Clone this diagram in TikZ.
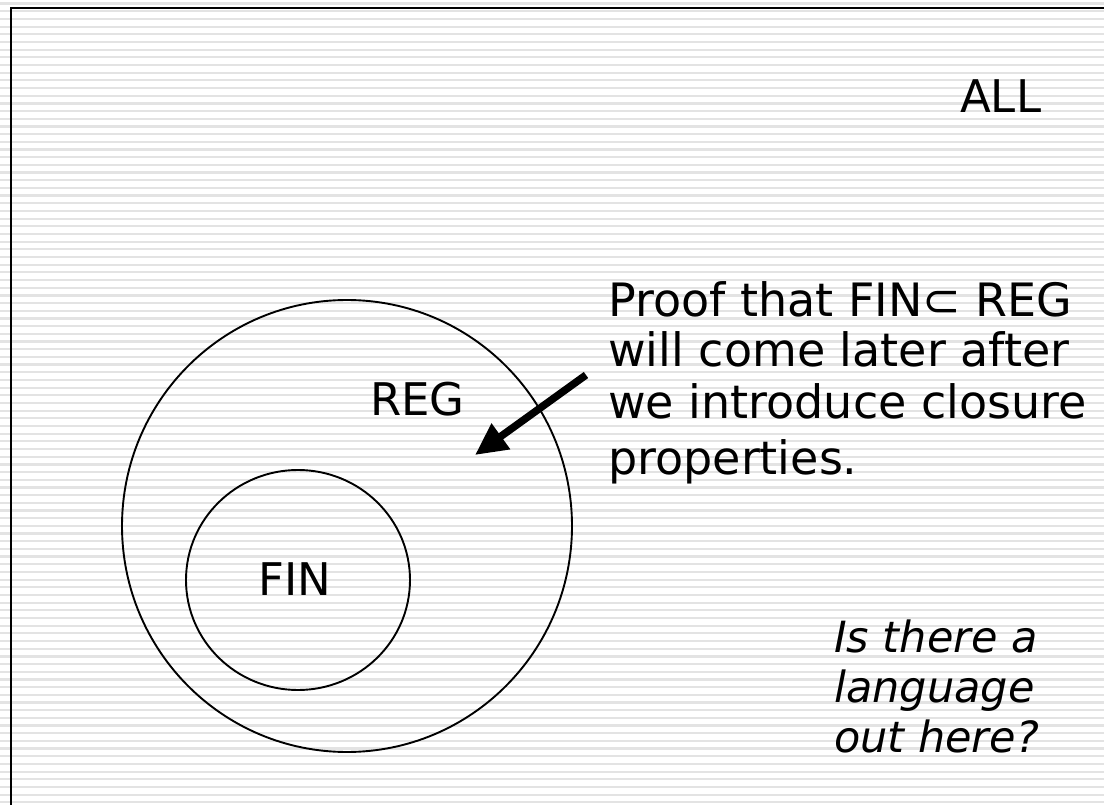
\documentclass[tikz,border=0pt]{standalone}
\usepackage{fontspec}
\setmainfont{DejaVu Sans}
\usetikzlibrary{arrows.meta}
\begin{document}
\begin{tikzpicture}[x=1pt,y=-1pt,
  stripe/.style={draw=black!11,line width=2.2pt},
  frameline/.style={draw=black,line width=2.2pt},
  setline/.style={draw=black,line width=1.9pt},
  label/.style={inner sep=0pt,font=\fontsize{45}{49}\selectfont},
  note/.style={inner sep=0pt,align=left,font=\fontsize{46}{50}\selectfont},
  bigarrow/.style={draw=black,line width=7.5pt,-{Triangle[length=32pt,width=30pt]}}]
\useasboundingbox (0,0) rectangle (1104,805);
\fill[white] (0,0) rectangle (1104,805);
\foreach \i in {0,...,105} {
  \draw[stripe] (0,3.6+\i*7.68) -- (1104,3.6+\i*7.68);
}
\draw[frameline] (11.3,805) -- (11.3,8.2) -- (1104,8.2);
% sets
\draw[setline] (347,526) ellipse [x radius=225, y radius=226];
\draw[setline] (298,580) ellipse [x radius=112, y radius=110];
% labels
\node[label,anchor=base west] (all) at (960,113) {ALL};
\node[label,anchor=base west] (reg) at (370,415) {REG};
\node[label,anchor=base west] (fin) at (258,595) {FIN};
\node[note,anchor=base west] (proof) at (608,474)
  {Proof that FIN⊂ REG\\will come later after\\[2pt]we introduce closure\\[6pt]properties.};
\node[note,anchor=base west,font=\fontsize{43}{50}\selectfont\itshape] (question) at (834,752)
  {Is there a\\language\\out here?};
% arrow
\coordinate (tail) at (586,375);
\coordinate (tip) at (475,455);
\draw[bigarrow] (tail) -- (tip);
\end{tikzpicture}
\end{document}
